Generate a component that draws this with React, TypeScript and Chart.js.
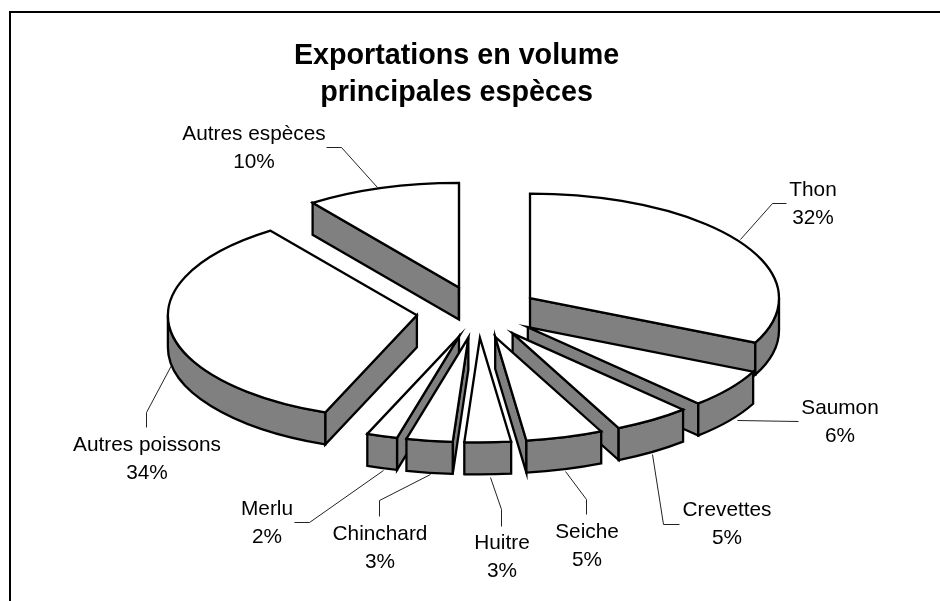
import React, { useEffect, useRef } from "react";
import { Chart, registerables } from "chart.js";

Chart.register(...registerables);

const categories = ["Thon", "Saumon", "Crevettes", "Seiche", "Huitre", "Chinchard", "Merlu", "Autres poissons", "Autres espèces"];
const shares = [32, 6, 5, 5, 3, 3, 2, 34, 10];
const titleLines = ["Exportations en volume", "principales espèces"];

// layout only
const CX = 478, CY = 312, RADIUS = 249, TILT = 0.42, DEPTH = 32, EXPLODE = 61.6;
const FONT = '"Liberation Sans", Arial, sans-serif';
const labelAnchors = [
  [813, 196], [840, 414], [727, 516], [587, 538], [502, 549], [380, 540], [267, 515], [147, 451], [254, 140],
];
const leaders = [
  [[786, 203], [772, 203], [740, 239]],
  [[798, 421], [737, 420]],
  [[679, 524], [663, 524], [652, 454]],
  [[586, 514], [586, 499], [565, 471]],
  [[501, 526], [501, 509], [490, 477]],
  [[379, 516], [379, 500], [430, 474]],
  [[294, 522], [309, 522], [383, 470]],
  [[146, 427], [146, 412], [171, 365]],
  [[326, 147], [341, 147], [377, 187]],
];

const pie3d = {
  id: "pie3d",
  beforeDraw(chart: any) {
    const { ctx } = chart;
    ctx.save();
    ctx.strokeStyle = "#000";
    ctx.lineWidth = 2;
    ctx.beginPath();
    ctx.moveTo(10, 601);
    ctx.lineTo(10, 12);
    ctx.lineTo(940, 12);
    ctx.stroke();
    ctx.restore();
  },
  beforeDatasetDraw(chart: any, args: any) {
    const { ctx } = chart;
    const arcs = chart.getDatasetMeta(args.index).data;
    const items = arcs.map((arc: any, i: number) => {
      const mid = (arc.startAngle + arc.endAngle) / 2;
      return {
        arc, i, mid,
        ax: CX + EXPLODE * Math.cos(mid),
        ay: CY + EXPLODE * TILT * Math.sin(mid),
      };
    });
    items.sort((a: any, b: any) => a.ay - b.ay);
    ctx.save();
    ctx.lineJoin = "miter";
    ctx.strokeStyle = "#000";
    ctx.lineWidth = 2.3;
    const rx = RADIUS, ry = RADIUS * TILT;
    for (const { arc, ax, ay } of items) {
      const a0 = arc.startAngle, a1 = arc.endAngle;
      const wall = (a: number) => {
        const px = ax + rx * Math.cos(a), py = ay + ry * Math.sin(a);
        ctx.beginPath();
        ctx.moveTo(ax, ay);
        ctx.lineTo(px, py);
        ctx.lineTo(px, py + DEPTH);
        ctx.lineTo(ax, ay + DEPTH);
        ctx.closePath();
        ctx.fillStyle = "#808080";
        ctx.fill();
        ctx.stroke();
      };
      // radial walls that face the viewer
      if (Math.cos(a0) < 0) wall(a0);
      if (Math.cos(a1) > 0) wall(a1);
      // rim
      const lo = Math.max(a0, 0), hi = Math.min(a1, Math.PI);
      if (hi > lo) {
        ctx.beginPath();
        ctx.ellipse(ax, ay, rx, ry, 0, lo, hi);
        ctx.ellipse(ax, ay + DEPTH, rx, ry, 0, hi, lo, true);
        ctx.closePath();
        ctx.fillStyle = "#808080";
        ctx.fill();
        ctx.stroke();
      }
      // top face: the library's own arc, squashed
      ctx.save();
      ctx.translate(ax, ay);
      ctx.scale(1, TILT);
      ctx.translate(-arc.x, -arc.y);
      arc.draw(ctx);
      ctx.restore();
      ctx.beginPath();
      ctx.moveTo(ax, ay);
      ctx.ellipse(ax, ay, rx, ry, 0, a0, a1);
      ctx.closePath();
      ctx.stroke();
    }
    ctx.restore();
    return false;
  },
  afterDraw(chart: any) {
    const { ctx } = chart;
    ctx.save();
    ctx.strokeStyle = "#222";
    ctx.lineWidth = 1;
    leaders.forEach((pts) => {
      ctx.beginPath();
      pts.forEach(([x, y], k) => (k ? ctx.lineTo(x + 0.5, y + 0.5) : ctx.moveTo(x + 0.5, y + 0.5)));
      ctx.stroke();
    });
    ctx.fillStyle = "#000";
    ctx.font = `20.8px ${FONT}`;
    ctx.textAlign = "center";
    ctx.textBaseline = "alphabetic";
    categories.forEach((name, i) => {
      const [x, y] = labelAnchors[i];
      ctx.fillText(name, x, y);
      ctx.fillText(`${shares[i]}%`, x, y + 28);
    });
    ctx.restore();
  },
};

export default function App() {
  const ref = useRef<HTMLCanvasElement>(null);
  useEffect(() => {
    const chart = new Chart(ref.current!, {
      type: "pie",
      data: {
        labels: categories,
        datasets: [{ data: shares, backgroundColor: "#fff", borderWidth: 0 }],
      },
      options: {
        animation: false,
        responsive: false,
        radius: RADIUS,
        layout: { padding: { right: 27 } },
        plugins: {
          legend: { display: false },
          tooltip: { enabled: false },
          title: {
            display: true,
            text: titleLines,
            color: "#000",
            font: { family: FONT, size: 28.7, weight: "bold", lineHeight: 1.28 },
            padding: { top: 38, bottom: 0 },
          },
        },
      } as any,
      plugins: [pie3d],
    });
    return () => chart.destroy();
  }, []);
  return (
    <div style={{ position: "absolute", left: 0, top: 0, width: 940, height: 601, background: "#fff" }}>
      <canvas ref={ref} width={940} height={601} style={{ display: "block" }} />
    </div>
  );
}
